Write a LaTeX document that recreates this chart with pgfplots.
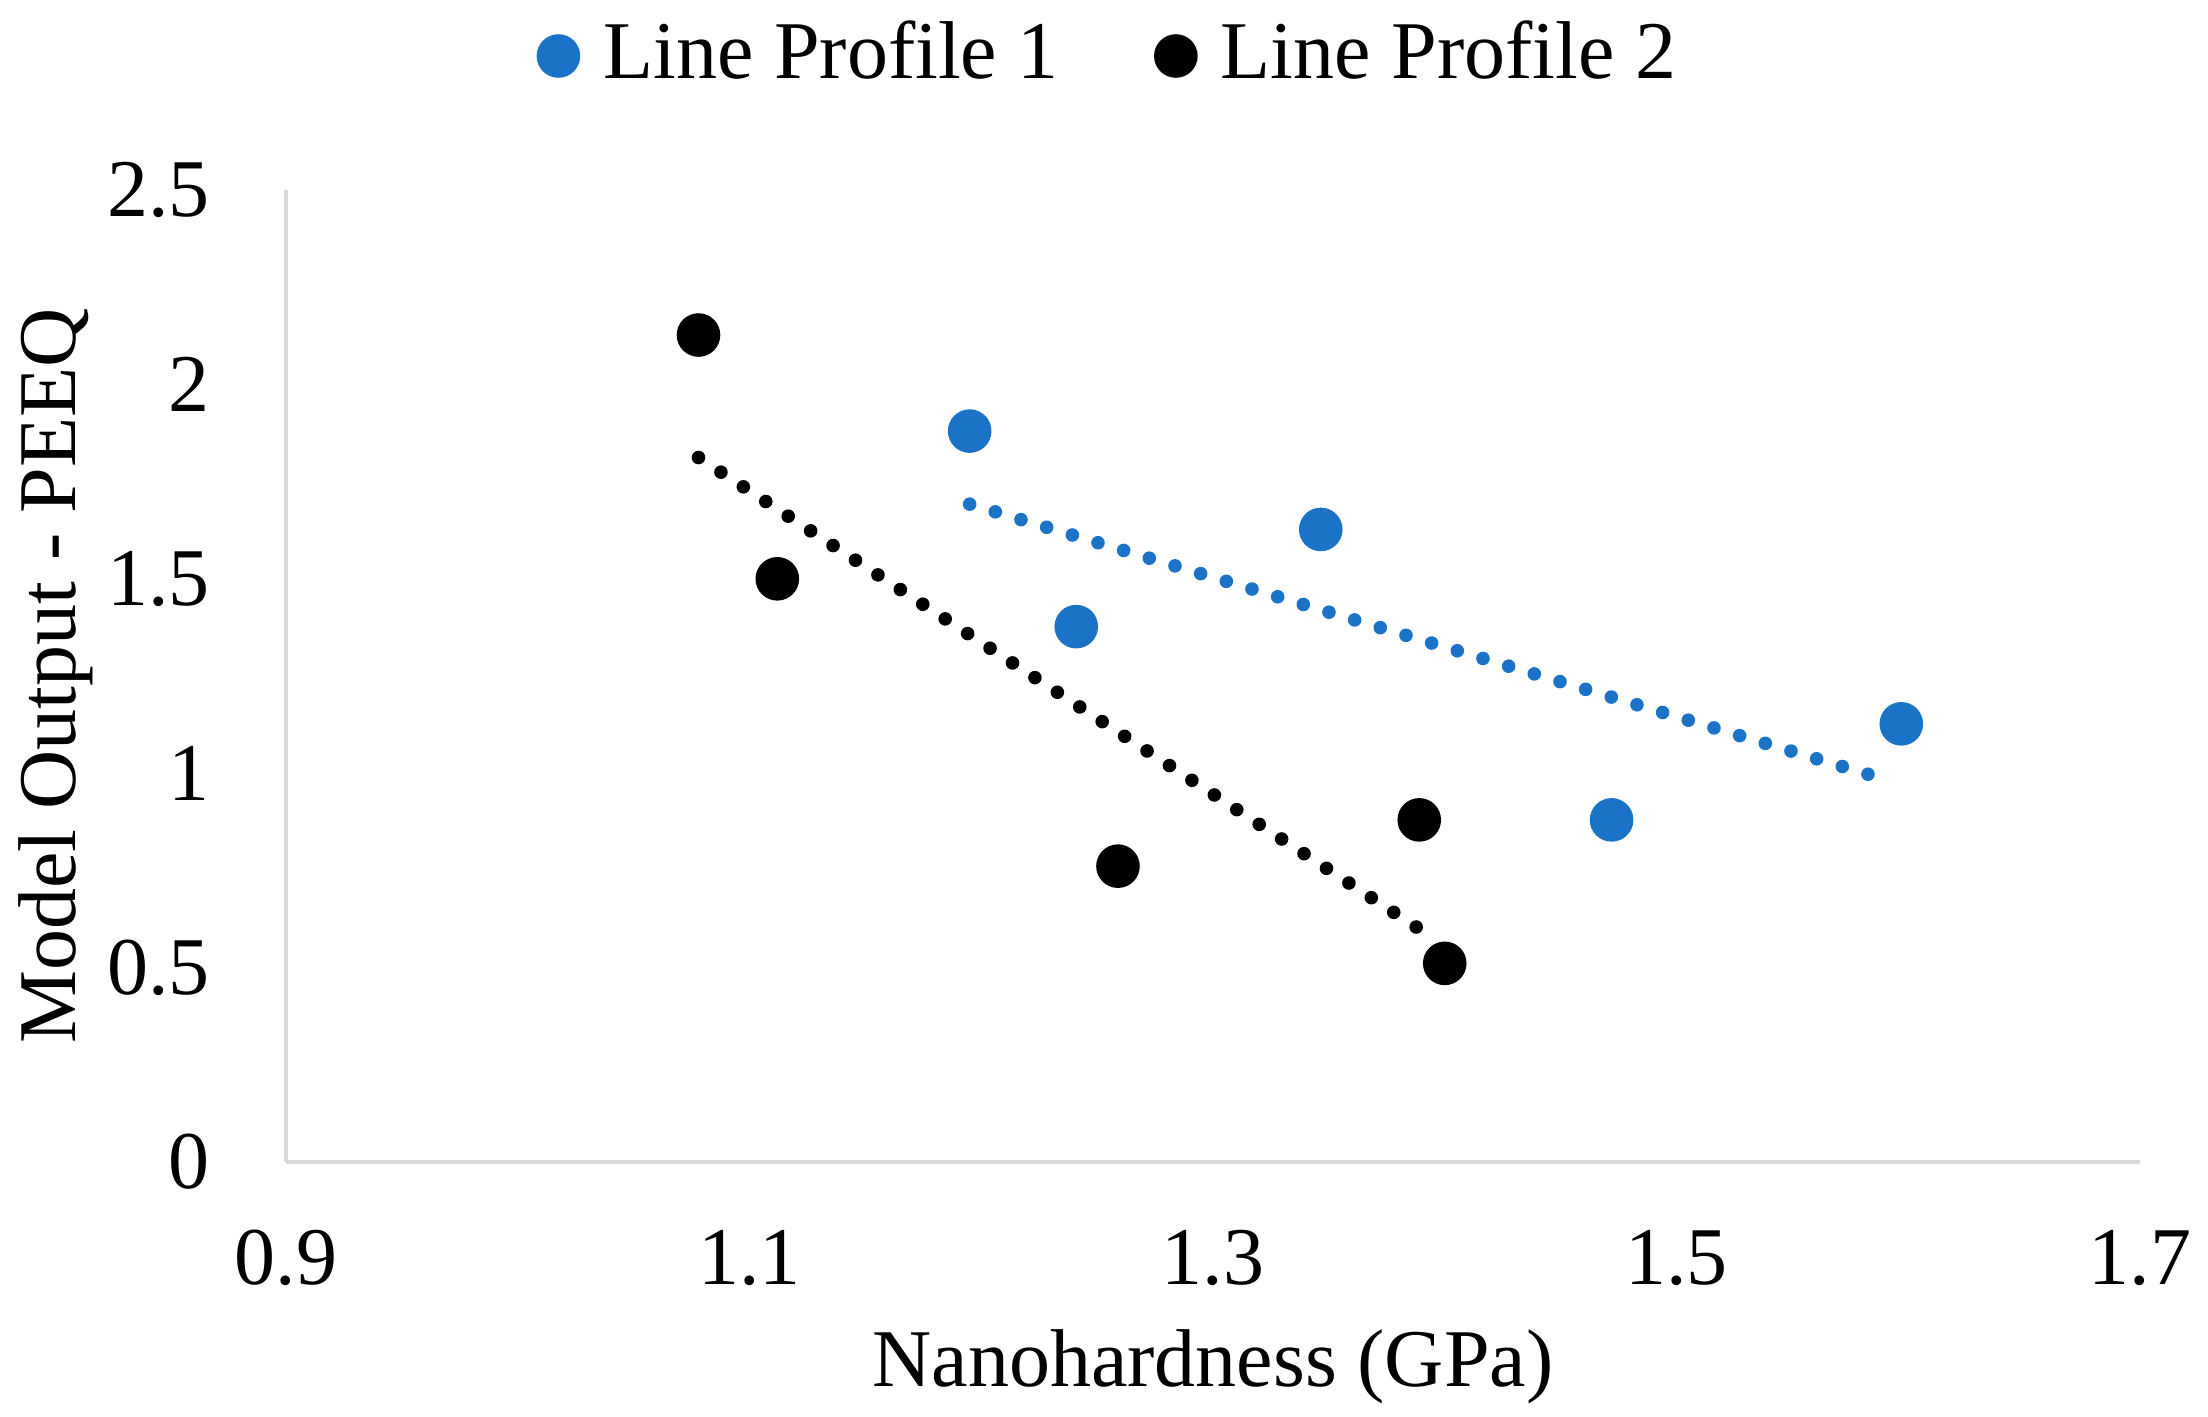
\documentclass[border=0pt]{standalone}
\usepackage{fontspec}
\setmainfont{Liberation Serif}
\usepackage{pgfplots}
\pgfplotsset{compat=1.18}
\definecolor{lpone}{RGB}{27,115,200}
\definecolor{axgray}{RGB}{217,217,217}
\begin{document}
\fontsize{20.5}{24}\selectfont
\begin{tikzpicture}
\begin{axis}[
  scale only axis, width=463.5pt, height=243pt,
  xmin=0.9, xmax=1.7, ymin=0, ymax=2.5,
  xtick={0.9,1.1,1.3,1.5,1.7}, ytick={0,0.5,1,1.5,2,2.5},
  axis x line*=bottom, axis y line*=left,
  axis line style={draw=axgray, line width=0.8pt, -},
  major tick length=0pt,
  /pgf/number format/assume math mode=true,
  xticklabel style={/pgf/number format/fixed, /pgf/number format/fixed zerofill, /pgf/number format/precision=1, yshift=-10pt},
  yticklabel style={xshift=-12pt},
  xlabel={Nanohardness (GPa)}, ylabel={Model Output - PEEQ},
  xlabel style={at={([yshift=-56pt]rel axis cs:0.5,0)}, anchor=base},
  ylabel style={at={([xshift=-57.5pt]rel axis cs:0,0.5)}, anchor=center},
  legend style={at={([xshift=62.65pt, yshift=33.5pt]rel axis cs:0,1)}, anchor=west, draw=none, fill=none, inner sep=0pt,
    nodes={inner sep=0pt},
    /tikz/every odd column/.append style={column sep=6pt},
    /tikz/every even column/.append style={column sep=24pt}},
  legend columns=2,
  legend cell align=left,
  legend image code/.code={\draw[#1] plot coordinates {(0pt,0pt)};},
  clip=false,
]
\addplot[only marks, mark=*, mark size=5.25pt, color=lpone] coordinates {
  (1.195,1.880) (1.3465,1.627) (1.241,1.377) (1.472,0.880) (1.597,1.127)};
\addlegendentry{Line Profile 1}
\addplot[only marks, mark=*, mark size=5.25pt, color=black] coordinates {
  (1.078,2.127) (1.112,1.500) (1.259,0.761) (1.389,0.880) (1.400,0.511)};
\addlegendentry{Line Profile 2}
\addplot[forget plot, lpone, line width=3.4pt, line cap=round, dash pattern=on 0pt off 6.7pt] coordinates {(1.195,1.692) (1.589,0.986)};
\addplot[forget plot, black, line width=3.4pt, line cap=round, dash pattern=on 0pt off 6.7pt] coordinates {(1.078,1.812) (1.396,0.572)};
\coordinate (sw) at (rel axis cs:0,0);
\coordinate (ne) at (rel axis cs:1,1);
\end{axis}
\pgfresetboundingbox
\path[use as bounding box] ([xshift=-71.5pt,yshift=-63.5pt]sw) rectangle ([xshift=17pt,yshift=47.5pt]ne);
\end{tikzpicture}
\end{document}
